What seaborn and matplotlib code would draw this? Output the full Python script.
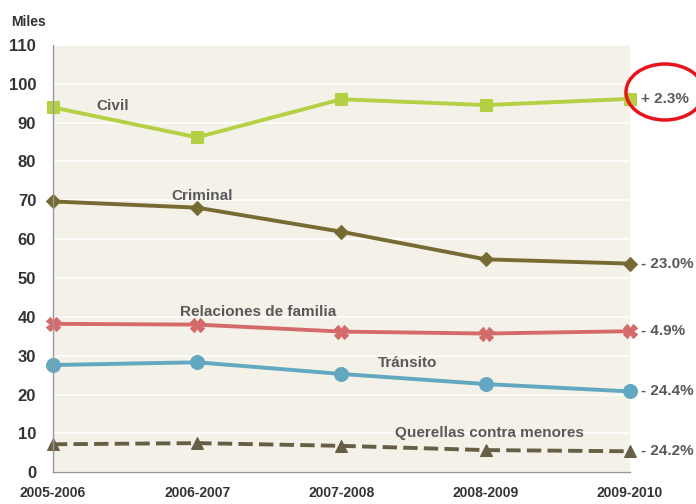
import pandas as pd
import matplotlib
matplotlib.use("Agg")
import matplotlib.pyplot as plt
from matplotlib.patches import Ellipse
import seaborn as sns

# caseload by type of matter, thousands, 2005-2010
periodos = ["2005-2006", "2006-2007", "2007-2008", "2008-2009", "2009-2010"]
civil = [93.9, 86.2, 96.0, 94.5, 96.1]
criminal = [69.7, 68.1, 61.9, 54.8, 53.7]
familia = [38.2, 38.0, 36.2, 35.7, 36.3]
transito = [27.6, 28.3, 25.3, 22.7, 20.8]
querellas = [7.2, 7.5, 6.8, 5.7, 5.4]
cambios = ["+ 2.3%", "- 23.0%", "- 4.9%", "- 24.4%", "- 24.2%"]
y_ticks = list(range(0, 111, 10))

sns.set_style("whitegrid")
plt.rcParams["font.family"] = ["Liberation Sans", "DejaVu Sans"]

series = [
    ("Civil", civil, "#b5d045", "s", "-", 9),
    ("Criminal", criminal, "#776b33", "D", "-", 7),
    ("Relaciones de familia", familia, "#d46a6a", "X", "-", 10),
    ("Tránsito", transito, "#62a8c1", "o", "-", 10),
    ("Querellas contra menores", querellas, "#675f45", "^", "--", 9),
]

fig, ax = plt.subplots(figsize=(6.96, 5.04), dpi=100)
fig.subplots_adjust(left=0.076, right=0.905, top=0.911, bottom=0.063)
ax.set_facecolor("#f4f1e8")

x = list(range(len(periodos)))
for name, vals, col, mk, ls, ms in series:
    sns.lineplot(x=x, y=vals, ax=ax, color=col, marker=mk, markersize=ms,
                 markeredgecolor=col, linewidth=2.8, linestyle=ls, clip_on=False)

ax.set_xlim(0, 4)
ax.set_ylim(0, 110)
ax.set_yticks(y_ticks)
ax.set_xticks(x)
ax.set_xticklabels(periodos)
ax.grid(axis="y", color="white", linewidth=1.2)
ax.grid(axis="x", visible=False)
for s in ["top", "right"]:
    ax.spines[s].set_visible(False)
for s in ["left", "bottom"]:
    ax.spines[s].set_color("#999999")
    ax.spines[s].set_linewidth(1)
ax.tick_params(axis="y", length=3, color="#999999", labelsize=12, labelcolor="#333333", pad=9)
ax.tick_params(axis="x", length=4, color="#999999", labelsize=10, labelcolor="#333333", pad=6)
for lab in ax.get_yticklabels() + ax.get_xticklabels():
    lab.set_fontweight("bold")
ax.set_xlabel("")
ax.set_ylabel("")

lbl = dict(color="#595959", fontsize=11, fontweight="bold")
ax.text(0.30, 94.2, "Civil", va="center", ha="left", **lbl)
ax.text(0.82, 71.0, "Criminal", va="center", ha="left", **lbl)
ax.text(0.88, 41.3, "Relaciones de familia", va="center", ha="left", **lbl)
ax.text(2.25, 28.0, "Tránsito", va="center", ha="left", **lbl)
ax.text(2.37, 10.2, "Querellas contra menores", va="center", ha="left", **lbl)

for (name, vals, *_), txt in zip(series, cambios):
    ax.annotate(txt, xy=(4, vals[-1]), xytext=(8, 0), textcoords="offset points",
                va="center", ha="left", color="#595959", fontsize=11,
                fontweight="bold", annotation_clip=False)

fig.text(0.016, 0.957, "Miles", fontsize=10, fontweight="bold", color="#333333", va="center")

circ = Ellipse((665 / 696, 1 - 92 / 504), 78 / 696, 56 / 504, transform=fig.transFigure,
               fill=False, edgecolor="#e8141b", linewidth=2.5, clip_on=False)
fig.patches.append(circ)

fig.savefig("out.png", dpi=100)
